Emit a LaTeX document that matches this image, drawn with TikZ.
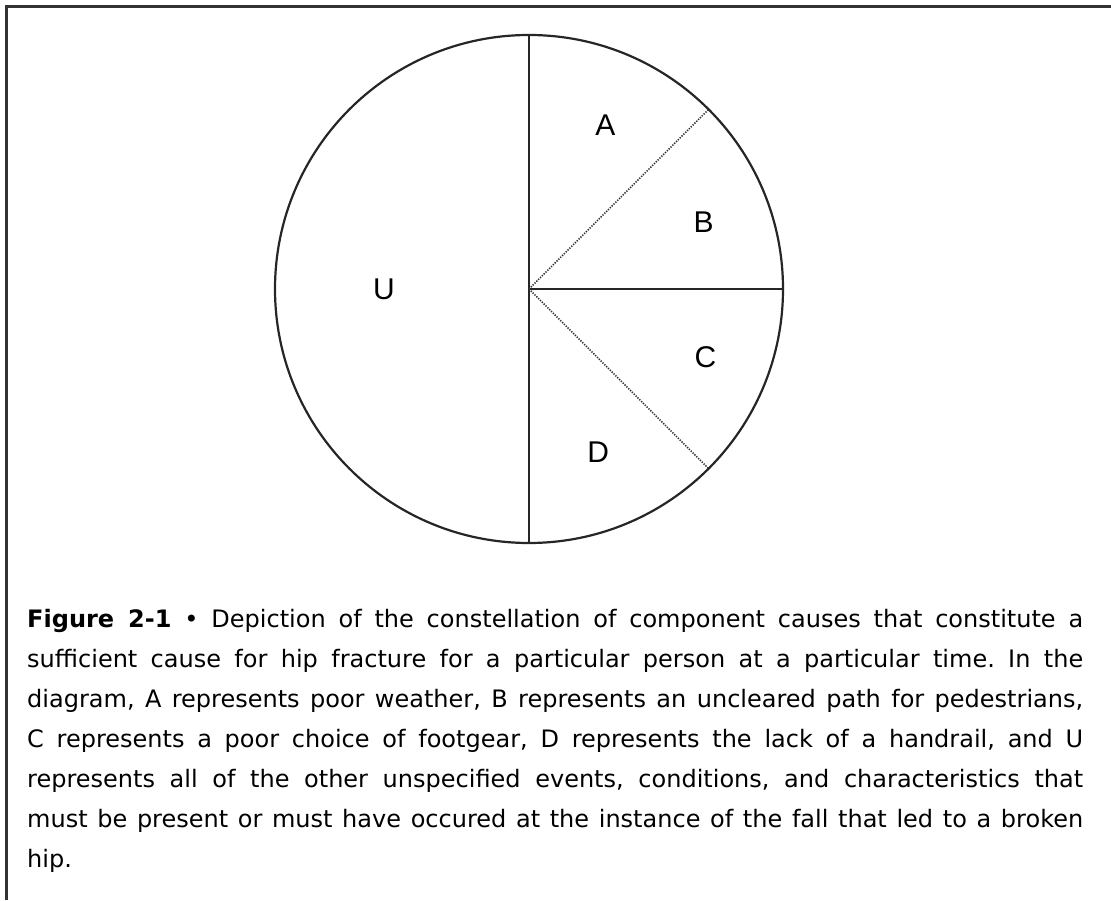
\documentclass[tikz,border=0pt]{standalone}
\usepackage{fontspec}
\usetikzlibrary{calc}
\setmainfont{DejaVu Sans}
\newfontfamily\sectorfont{Liberation Sans}
\begin{document}
\begin{tikzpicture}[x=1pt,y=1pt,
  rim/.style={line width=2.2pt,black!85},
  split/.style={line width=1.6pt,black!80,dash pattern=on 1.3pt off 1.3pt},
  sector/.style={font=\sectorfont\fontsize{30}{30}\selectfont,inner sep=0pt}]
\useasboundingbox (0,0) rectangle (1111,900);
% frame
\draw[line width=3pt,black!80] (6,0) -- (6,893) -- (1111,893);
% pie of component causes
\coordinate (c) at (529,611);
\coordinate (top) at ($(c)+(90:254)$);
\coordinate (bot) at ($(c)+(270:254)$);
\coordinate (east) at ($(c)+(0:254)$);
\coordinate (ne) at ($(c)+(45:254)$);
\coordinate (se) at ($(c)+(-45:254)$);
\draw[rim] (c) circle (254);
\draw[rim] (top) -- (bot);
\draw[rim] (c) -- (east);
\draw[split] (c) -- (ne);
\draw[split] (c) -- (se);
\node[sector] (a) at ($(c)+(65:181)$) {A};
\node[sector] (b) at ($(c)+(21:187)$) {B};
\node[sector] (cc) at ($(c)+(-21:189)$) {C};
\node[sector] (d) at ($(c)+(-67:177)$) {D};
\node[sector] (u) at ($(c)+(180:145)$) {U};
% caption
\node[anchor=base west,inner sep=0pt,text width=1056,align=justify,
  font=\fontsize{24}{40}\selectfont] (caption) at (27,272)
  {\frenchspacing\hyphenpenalty=10000\textbf{Figure 2-1} \textbullet{} Depiction of the constellation of component causes that constitute a\linebreak
  sufficient cause for hip fracture for a particular person at a particular time. In the\linebreak
  diagram, A represents poor weather, B represents an uncleared path for pedestrians,\linebreak
  C represents a poor choice of footgear, D represents the lack of a handrail, and U\linebreak
  represents all of the other unspecified events, conditions, and characteristics that\linebreak
  must be present or must have occured at the instance of the fall that led to a broken\linebreak
  hip.};
\end{tikzpicture}
\end{document}
